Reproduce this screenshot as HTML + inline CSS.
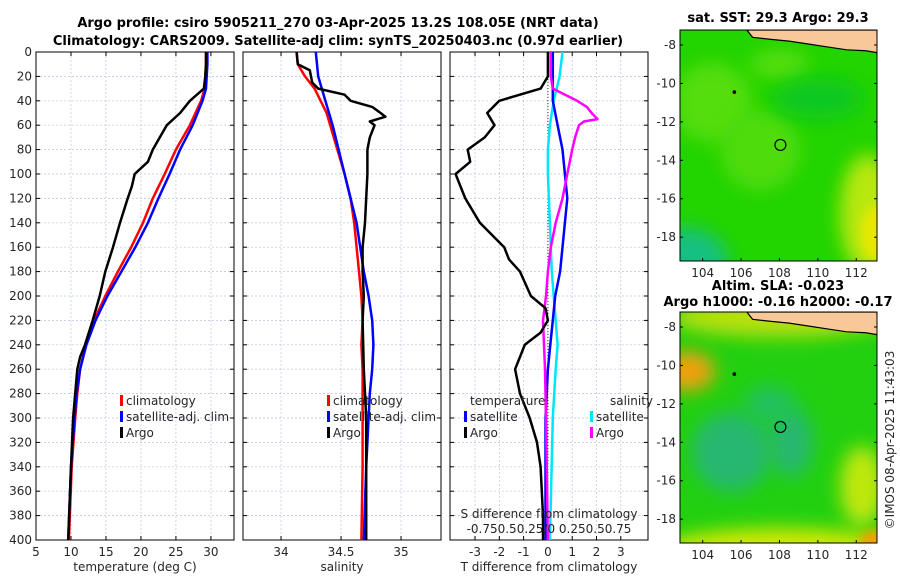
<!DOCTYPE html>
<html><head><meta charset="utf-8">
<style>
body{margin:0;background:#fff;}
svg{display:block;font-family:"DejaVu Sans","Liberation Sans",sans-serif;}
.t{font-size:12px;fill:#262626;}
.ttl{font-size:13px;font-weight:bold;fill:#000;}
</style></head>
<body>
<svg id="c" width="900" height="580" viewBox="0 0 900 580" xmlns="http://www.w3.org/2000/svg">
<defs>
<filter id="blur8" x="-100%" y="-100%" width="300%" height="300%"><feGaussianBlur stdDeviation="9"/></filter>
<filter id="blur5" x="-100%" y="-100%" width="300%" height="300%"><feGaussianBlur stdDeviation="5"/></filter>
<clipPath id="m1clip"><rect x="680" y="30" width="197" height="231"/></clipPath>
<clipPath id="m2clip"><rect x="680" y="312" width="197" height="231"/></clipPath>
</defs>
<text class="ttl" x="338" y="27" text-anchor="middle">Argo profile: csiro 5905211_270 03-Apr-2025 13.2S 108.05E (NRT data)</text>
<text class="ttl" x="338" y="45" text-anchor="middle">Climatology: CARS2009. Satellite-adj clim: synTS_20250403.nc (0.97d earlier)</text>
<g id="p1"></g>
<g id="p2"></g>
<g id="p3"></g>
<g id="m1"></g>
<g id="m2"></g>
<text class="t" transform="translate(894,440) rotate(-90)" text-anchor="middle">©IMOS 08-Apr-2025 11:43:03</text>
</svg>
<script>
// ---- data ----
const depthsClim = [0,10,20,30,40,60,80,100,120,140,160,180,200,220,240,260,280,300,340,400];
const tempClim = [29.3,29.3,29.2,29.1,28.6,27,25,23.4,21.7,20.3,18.6,16.7,14.9,13.3,12.1,11.3,10.9,10.6,10.1,9.7];
const tempSat  = [29.5,29.5,29.4,29.3,28.8,27.4,25.6,24.1,22.5,21,19.2,17.2,15.2,13.5,12.2,11.3,10.8,10.5,10.0,9.6];
const depthsArgoT = [0,10,20,30,40,50,60,70,80,90,100,110,120,140,160,180,200,220,240,250,260,280,300,340,400];
const tempArgo = [29.3,29.3,29.2,29.0,27.0,25.6,23.7,22.7,21.7,21.0,19.1,18.7,18.1,17.0,16.0,14.9,14.1,13.1,12.0,11.3,10.9,10.6,10.3,10.0,9.6];
const depthsS = [0,10,20,30,40,50,60,80,100,120,140,160,180,200,220,240,260,280,300,340,400];
const salClim = [34.13,34.14,34.2,34.28,34.33,34.38,34.41,34.47,34.53,34.58,34.61,34.63,34.65,34.67,34.68,34.67,34.68,34.68,34.68,34.68,34.67];
const salSat  = [34.29,34.3,34.31,34.34,34.37,34.4,34.43,34.48,34.53,34.58,34.63,34.66,34.69,34.73,34.76,34.77,34.76,34.74,34.73,34.71,34.69];
const depthsArgoS = [0,10,15,25,30,35,40,45,50,53,57,60,70,80,100,140,160,180,200,220,260,300,400];
const salArgo = [34.13,34.14,34.24,34.26,34.31,34.53,34.58,34.76,34.83,34.87,34.74,34.78,34.74,34.72,34.72,34.70,34.68,34.68,34.69,34.68,34.69,34.71,34.71];
const depthsDT = [0,20,30,40,50,60,70,80,90,100,110,120,140,160,170,180,200,210,220,230,240,260,280,300,320,340,360,380,400];
const dTArgo = [0,0,-0.3,-2.0,-2.5,-2.2,-2.6,-3.3,-3.2,-3.8,-3.6,-3.4,-2.8,-1.8,-1.6,-1.15,-0.7,-0.1,0,-0.3,-0.95,-1.35,-1.15,-0.75,-0.45,-0.3,-0.25,-0.2,-0.2];
const depthsDsat = [0,20,40,60,80,100,120,140,160,180,200,220,240,260,300,400];
const dTSat = [0.2,0.2,0.2,0.4,0.6,0.7,0.8,0.7,0.6,0.5,0.3,0.2,0.1,0,-0.1,-0.1];
const dSSat = [0.15,0.12,0.06,0.02,0,0,0.01,0.02,0.03,0.04,0.06,0.08,0.1,0.08,0.05,0.02];
const depthsDS = [0,20,30,40,45,50,55,57,60,70,80,100,120,140,160,180,200,220,260,300,400];
const dSArgo = [0.03,0.03,0.05,0.3,0.4,0.45,0.51,0.37,0.32,0.28,0.25,0.2,0.15,0.08,0.03,0,-0.02,-0.05,-0.03,-0.02,0];
const depthTicks = [0,20,40,60,80,100,120,140,160,180,200,220,240,260,280,300,320,340,360,380,400];
const tTicks = [5,10,15,20,25,30];
const sTicks = [34,34.5,35];
const dTicks = [-3,-2,-1,0,1,2,3];
const sDiffLabels = ["-0.75","0.5","0.25","0","0.25","0.5","0.75"];
const lonTicks = [104,106,108,110,112];
const latTicks = [-8,-10,-12,-14,-16,-18];

const NS='http://www.w3.org/2000/svg';
function mk(parent,tag,attrs,txt){const e=document.createElementNS(NS,tag);for(const k in attrs)e.setAttribute(k,attrs[k]);if(txt!==undefined)e.textContent=txt;parent.appendChild(e);return e;}
const Y0=52,Y1=540;
const yD=d=>Y0+(d/400)*(Y1-Y0);
function panel(g,x0,x1,xmin,xmax,xt,xlabels,xtitle,showY){
  const sx=v=>x0+(v-xmin)/(xmax-xmin)*(x1-x0);
  depthTicks.forEach(d=>{const l=mk(g,'line',{x1:x0,x2:x1,y1:yD(d),y2:yD(d),stroke:'#b8c4dc','stroke-width':0.7,'stroke-dasharray':'2,2'});
    
    mk(g,'line',{x1:x0,x2:x0+4,y1:yD(d),y2:yD(d),stroke:'#000'});mk(g,'line',{x1:x1,x2:x1-4,y1:yD(d),y2:yD(d),stroke:'#000'});
    if(showY){const t=mk(g,'text',{class:'t',x:x0-4,y:yD(d)+4,'text-anchor':'end'},String(d));}});
  xt.forEach((v,i)=>{const l=mk(g,'line',{x1:sx(v),x2:sx(v),y1:Y0,y2:Y1,stroke:'#b8c4dc','stroke-width':0.7,'stroke-dasharray':'2,2'});
    
    mk(g,'line',{x1:sx(v),x2:sx(v),y1:Y1,y2:Y1-4,stroke:'#000'});mk(g,'line',{x1:sx(v),x2:sx(v),y1:Y0,y2:Y0+4,stroke:'#000'});
    const t=mk(g,'text',{class:'t',x:sx(v),y:Y1+16,'text-anchor':'middle'},xlabels[i]);});
  const r=mk(g,'rect',{x:x0,y:Y0,width:x1-x0,height:Y1-Y0,fill:'none',stroke:'#000','stroke-width':1});
  
  const t=mk(g,'text',{class:'t',x:(x0+x1)/2,y:Y1+31,'text-anchor':'middle','font-size':'13'},xtitle);
  
  return sx;
}
function line(g,sx,ds,vs,col,name,w){
  const p=mk(g,'polyline',{points:ds.map((d,i)=>sx(vs[i]).toFixed(1)+','+yD(d).toFixed(1)).join(' '),fill:'none',stroke:col,'stroke-width':w||2.5,'stroke-linejoin':'round'});
  
}
function legend(g,x,y,col,label,name){
  const r=mk(g,'rect',{x:x,y:y-10,width:3,height:11,fill:col});
  const t=mk(g,'text',{class:'t',x:x+6,y:y,'font-size':'13'},label);
  
  
}
const p1=document.getElementById('p1');
const sx1=panel(p1,36,234,5,33.3,tTicks,tTicks.map(String),'temperature (deg C)',true);
line(p1,sx1,depthsClim,tempClim,'#ff0000','temp-climatology-line');
line(p1,sx1,depthsClim,tempSat,'#0000ff','temp-satellite-line');
line(p1,sx1,depthsArgoT,tempArgo,'#000','temp-argo-line');
legend(p1,120,405,'#ff0000','climatology','legend-climatology');
legend(p1,120,421,'#0000ff','satellite-adj. clim','legend-satellite');
legend(p1,120,437,'#000','Argo','legend-argo');
const p2=document.getElementById('p2');
const sx2=panel(p2,243,441,33.683,35.333,sTicks,['34','34.5','35'],'salinity',false);
line(p2,sx2,depthsS,salClim,'#ff0000','sal-climatology-line');
line(p2,sx2,depthsS,salSat,'#0000ff','sal-satellite-line');
line(p2,sx2,depthsArgoS,salArgo,'#000','sal-argo-line');
legend(p2,327,405,'#ff0000','climatology','legend-climatology');
legend(p2,327,421,'#0000ff','satellite-adj. clim','legend-satellite');
legend(p2,327,437,'#000','Argo','legend-argo');
const p3=document.getElementById('p3');
const sx3=panel(p3,450,648,-4.03,4.12,dTicks,dTicks.map(String),'T difference from climatology',false);
const zl=mk(p3,'line',{x1:sx3(0),x2:sx3(0),y1:Y0,y2:Y1,stroke:'#000','stroke-width':0.8,'stroke-dasharray':'1,2'});

const sxS=v=>sx3(v*4);
line(p3,sxS,depthsDsat,dSSat,'#00e5ff','sdiff-satellite-line');
line(p3,sx3,depthsDsat,dTSat,'#0000ff','tdiff-satellite-line');
line(p3,sxS,depthsDS,dSArgo,'#ff00ff','sdiff-argo-line');
line(p3,sx3,depthsDT,dTArgo,'#000','tdiff-argo-line');
[['temperature',470,405,'legend-temperature-heading'],['salinity',610,405,'legend-salinity-heading']].forEach(a=>{const t=mk(p3,'text',{class:'t',x:a[1],y:a[2],'font-size':'13'},a[0]);});
legend(p3,464,421,'#0000ff','satellite','legend-t-satellite');
legend(p3,464,437,'#000','Argo','legend-t-argo');
legend(p3,590,421,'#00e5ff','satellite','legend-s-satellite');
legend(p3,590,437,'#ff00ff','Argo','legend-s-argo');
const st=mk(p3,'text',{class:'t',x:549,y:518,'text-anchor':'middle','font-size':'13'},'S difference from climatology');

const sl=mk(p3,'text',{class:'t',x:549,y:533,'text-anchor':'middle','font-size':'13'},sDiffLabels[0]+sDiffLabels[1]+sDiffLabels[2]+'/'+sDiffLabels[3]+' '+sDiffLabels[4]+sDiffLabels[5]+sDiffLabels[6]);


function map(id,y0,clip,title1,title2,kind){
  const g=document.getElementById(id);
  const x0=680,x1=877,y1=y0+231;
  const lx=v=>x0+(v-102.82)/(113.08-102.82)*(x1-x0);
  const ly=v=>y0+(-7.22-v)/(19.24-7.22)*(y1-y0);
  const b=mk(g,'g',{'clip-path':'url(#'+clip+')'});
  const E=(cx,cy,rx,ry,f,fl)=>mk(b,'ellipse',{cx:lx(cx),cy:ly(cy),rx:rx,ry:ry,fill:f,filter:'url(#'+(fl||'blur8')+')'});
  if(kind==='sst'){
    mk(b,'rect',{x:x0,y:y0,width:197,height:231,fill:'#22d400'});
    E(104.5,-11,40,40,'#55dd10');
    E(107,-13.5,40,40,'#50dc10');
    E(108,-9,30,15,'#55dd10');
    E(110,-10.8,45,20,'#10c820');
    E(103,-19.3,45,35,'#18c080');
    E(112.6,-16.8,28,60,'#b8e810');
    E(113,-17.8,14,28,'#e8e800','blur5');
  } else {
    mk(b,'rect',{x:x0,y:y0,width:197,height:231,fill:'#22d010'});
    E(108,-7.5,110,20,'#b8e010');
    E(103.2,-10.3,28,20,'#f0a010');
    E(105.5,-14.5,40,40,'#28b870');
    E(108.6,-14,22,35,'#28b870');
    E(107.5,-12,25,18,'#22c060');
    E(108,-19.6,120,22,'#d0e800');
    E(112.3,-16.3,22,40,'#c0e810');
    E(113,-19.2,16,12,'#f0a000','blur5');
  }
  const land=mk(b,'path',{d:`M${lx(106.3)},${y0} L${lx(106.6)},${ly(-7.6)} L${lx(107.5)},${ly(-7.7)} L${lx(108.5)},${ly(-7.8)} L${lx(109.5)},${ly(-7.95)} L${lx(110.5)},${ly(-8.1)} L${lx(111.5)},${ly(-8.25)} L${lx(112.5)},${ly(-8.3)} L${lx(113.1)},${ly(-8.4)} L${x1},${y0} Z`,fill:'#f8c898',stroke:'#000','stroke-width':1.2});
  
  const ci=mk(b,'circle',{cx:lx(105.65),cy:ly(-10.45),r:1.8,fill:'#000'});
  
  const fl=mk(g,'circle',{cx:lx(108.05),cy:ly(-13.2),r:5.5,fill:'none',stroke:'#000','stroke-width':1.2});
  
  const fr=mk(g,'rect',{x:x0,y:y0,width:197,height:231,fill:'none',stroke:'#000'});
  
  lonTicks.forEach(v=>{mk(g,'line',{x1:lx(v),x2:lx(v),y1:y1,y2:y1-3,stroke:'#000'});
    const t=mk(g,'text',{class:'t',x:lx(v),y:y1+16,'text-anchor':'middle'},String(v));});
  latTicks.forEach(v=>{mk(g,'line',{x1:x0,x2:x0+3,y1:ly(v),y2:ly(v),stroke:'#000'});mk(g,'line',{x1:x1,x2:x1-3,y1:ly(v),y2:ly(v),stroke:'#000'});
    const t=mk(g,'text',{class:'t',x:x0-4,y:ly(v)+4,'text-anchor':'end'},String(v));});
  const a=mk(g,'text',{class:'ttl',x:778,y:y0-(title2?22:8),'text-anchor':'middle'},title1);
  if(title2){const c=mk(g,'text',{class:'ttl',x:778,y:y0-6,'text-anchor':'middle'},title2);}
}
map('m1',30,'m1clip','sat. SST: 29.3 Argo: 29.3',null,'sst');
map('m2',312,'m2clip','Altim. SLA: -0.023','Argo h1000: -0.16 h2000: -0.17','sla');
</script>
</body></html>
